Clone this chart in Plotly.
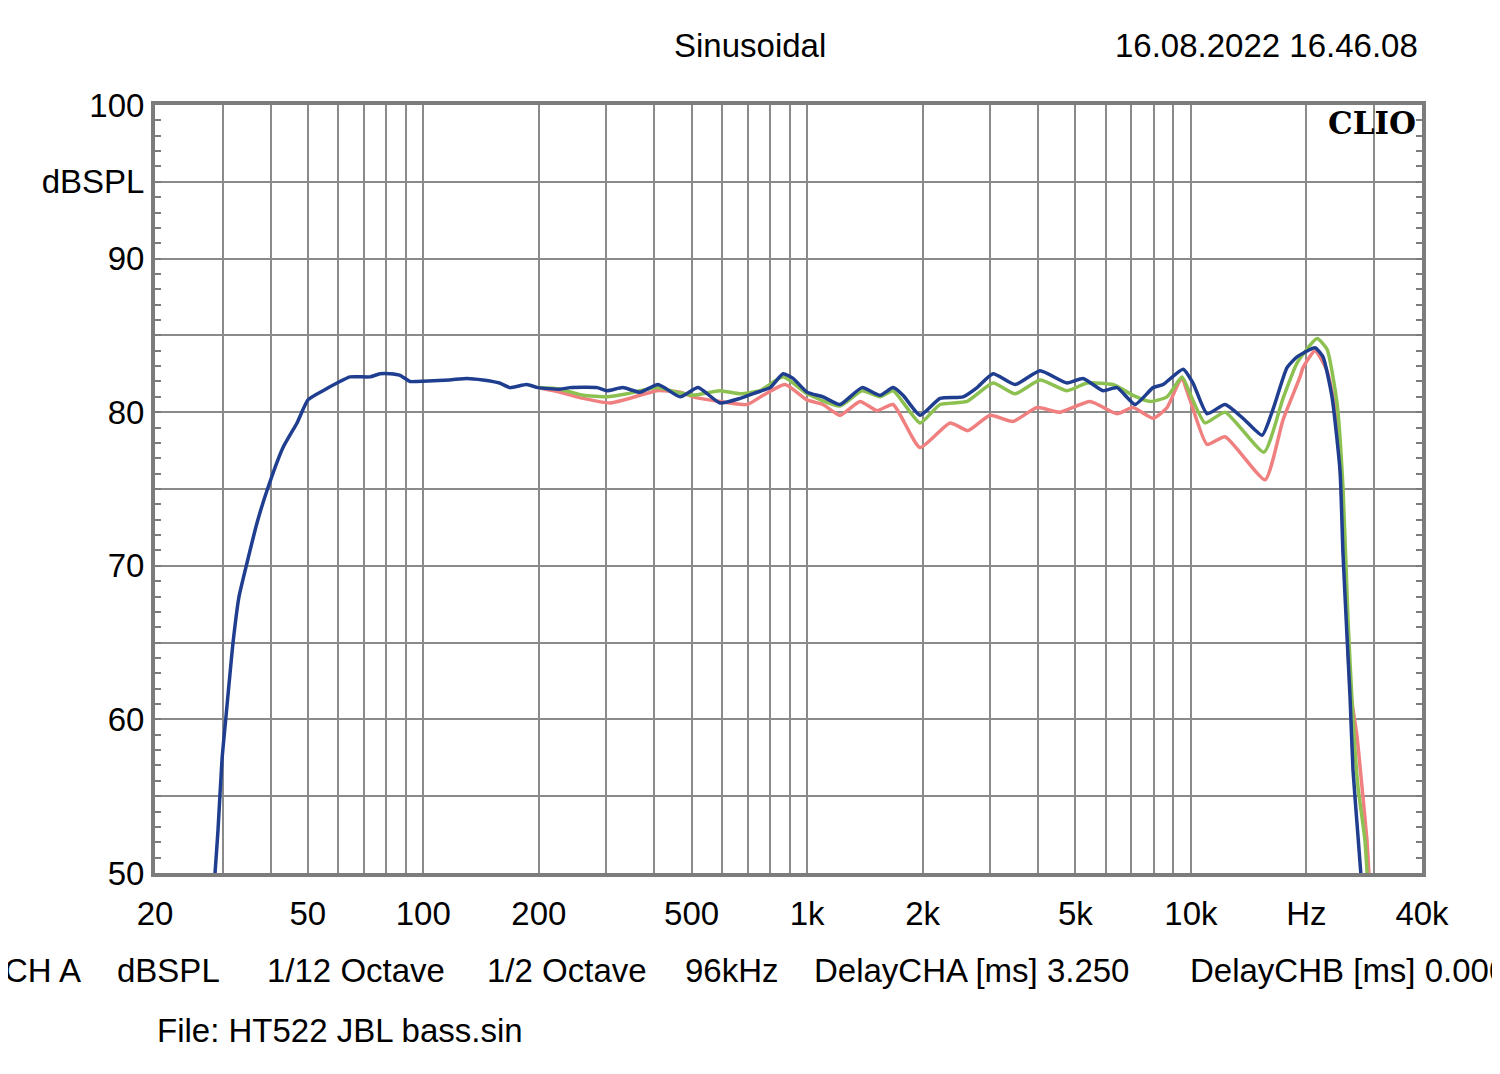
import plotly.graph_objects as go

# ---------------- data ----------------
blue_f = [28.4, 28.67, 29.19, 29.9, 30.62, 31.37, 31.94, 33.11, 34.74, 36.89, 39.16, 43.11, 46.88,
          50.07, 54.8, 59.6, 64.4, 72.6, 77.1, 81.9, 87.0, 92.3, 96.3, 117, 130, 143, 158, 168,
          186, 199, 227, 241, 284, 301, 331, 367, 409, 467, 520, 593, 669, 741, 801, 866, 919,
          1000, 1100, 1218, 1390, 1549, 1675, 1778, 1969, 2220, 2549, 2773, 3051, 3482, 4045,
          4756, 5235, 5902, 6420, 7153, 7968, 8462, 9540, 10127, 11015, 12272, 13672, 15324,
          16368, 17799, 18899, 21055, 22086, 23314, 24458, 24901, 25510, 25972, 26442, 27245, 28000]
blue_db = [48.5, 50.0, 52.8, 57.4, 60.2, 63.0, 65.0, 68.0, 70.2, 72.8, 74.9, 77.7, 79.3,
           80.8, 81.4, 81.9, 82.3, 82.3, 82.5, 82.5, 82.4, 82.0, 82.0, 82.1, 82.2, 82.1, 81.9, 81.6,
           81.8, 81.6, 81.5, 81.6, 81.6, 81.4, 81.6, 81.3, 81.8, 81.0, 81.6, 80.6, 80.9, 81.3, 81.6, 82.5, 82.2,
           81.3, 81.0, 80.5, 81.6, 81.1, 81.6, 81.1, 79.8, 80.9, 81.0, 81.6, 82.5, 81.8, 82.7,
           81.9, 82.2, 81.4, 81.6, 80.5, 81.6, 81.8, 82.8, 81.9, 79.9, 80.5, 79.6, 78.5,
           80.2, 82.9, 83.6, 84.2, 83.6, 81.0, 76.2, 70.8, 65.4, 61.5, 56.7, 52.4, 48.5]

green_f = [199, 227, 261, 301, 340, 406, 458, 504, 593, 669, 754, 866, 1000, 1218, 1390, 1549,
           1675, 1969, 2220, 2610, 3051, 3482, 4045, 4756, 5363, 6268, 7068, 7826, 8666, 9483,
           9947, 10884, 12272, 15500, 17378, 18899, 21309, 22626, 24023, 24901, 25663, 26442,
           27245, 28414, 29000]
green_db = [81.6, 81.5, 81.1, 81.0, 81.2, 81.6, 81.3, 81.1, 81.4, 81.2, 81.4, 82.3, 81.2, 80.4, 81.4, 81.0,
            81.4, 79.3, 80.5, 80.7, 81.9, 81.2, 82.1, 81.4, 81.9, 81.8, 81.1, 80.7, 81.0, 82.3,
            81.2, 79.3, 80.0, 77.4, 80.9, 83.2, 84.8, 84.1, 80.6, 75.1, 66.5, 60.0,
            55.6, 52.1, 48.5]

red_f = [199, 227, 261, 307, 367, 406, 467, 504, 593, 698, 768, 876, 1000, 1100, 1218, 1374,
         1521, 1675, 1969, 2357, 2626, 2997, 3440, 3973, 4560, 5460, 6420, 7068, 7968, 8666,
         9450, 9947, 11015, 12272, 15602, 17378, 19242, 19591, 21055, 22626, 24023, 24901,
         25972, 27083, 27908, 28756, 29300]
red_db = [81.6, 81.3, 80.9, 80.6, 81.1, 81.4, 81.3, 81.0, 80.7, 80.5, 81.1, 81.8, 80.8, 80.5, 79.8, 80.7,
          80.1, 80.5, 77.7, 79.3, 78.8, 79.8, 79.4, 80.3, 80.0, 80.7, 79.9, 80.3, 79.6, 80.3,
          82.2, 80.8, 77.9, 78.4, 75.6, 79.5, 82.3, 82.9, 84.0, 82.7, 79.5, 73.0,
          62.1, 58.9, 55.6, 52.1, 48.5]

x_grid = [20, 30, 40, 50, 60, 70, 80, 90, 100, 200, 300, 400, 500, 600, 700, 800, 900,
          1000, 2000, 3000, 4000, 5000, 6000, 7000, 8000, 9000, 10000, 20000, 30000, 40000]
x_labels = {20: "20", 50: "50", 100: "100", 200: "200", 500: "500", 1000: "1k", 2000: "2k",
            5000: "5k", 10000: "10k", 20000: "Hz", 40000: "40k"}
y_grid = [50, 55, 60, 65, 70, 75, 80, 85, 90, 95, 100]
y_labels = {50: "50", 60: "60", 70: "70", 80: "80", 90: "90", 95: "dBSPL", 100: "100"}

# ---------------- figure ----------------
FONT = "Liberation Sans, Arial, sans-serif"
FS = 33
GRID = "#8a8a8a"
FRAME = "#7c7c7c"
LINE_SHAPE = dict(shape="spline", smoothing=0.5)

fig = go.Figure()
fig.add_trace(go.Scatter(x=red_f, y=red_db, mode="lines",
                         line=dict(color="#f08080", width=3.5, **LINE_SHAPE), showlegend=False))
fig.add_trace(go.Scatter(x=green_f, y=green_db, mode="lines",
                         line=dict(color="#8cc152", width=3.5, **LINE_SHAPE), showlegend=False))
fig.add_trace(go.Scatter(x=blue_f, y=blue_db, mode="lines",
                         line=dict(color="#1f3e8f", width=3.5, **LINE_SHAPE), showlegend=False))

OFF = 8  # page body margin
L, R, T, B = 155 - OFF, 1422 - OFF, 105 - OFF, 873 - OFF
W, H = 1492, 1066

def px(x):
    return (x - OFF - L) / (R - L)

def py(y):
    return (B - (y - OFF)) / (B - T)

fig.update_layout(
    width=W, height=H,
    margin=dict(l=L, r=W - R, t=T, b=H - B, pad=0),
    paper_bgcolor="white", plot_bgcolor="white",
    font=dict(family=FONT, size=FS, color="black"),
    xaxis=dict(type="log", range=[1.30103, 4.60206],
               tickmode="array", tickvals=x_grid,
               ticktext=[x_labels.get(v, "") for v in x_grid],
               showgrid=True, gridcolor=GRID, gridwidth=2,
               showline=True, linecolor=FRAME, linewidth=4, mirror=True,
               ticks="", ticklabelstandoff=8, zeroline=False,
               tickfont=dict(family=FONT, size=FS, color="black")),
    yaxis=dict(range=[50, 100], tickmode="array", tickvals=y_grid,
               ticktext=[y_labels.get(v, "") for v in y_grid],
               showgrid=True, gridcolor=GRID, gridwidth=2,
               showline=True, linecolor=FRAME, linewidth=4, mirror="ticks",
               ticks="inside", ticklen=6, tickcolor=FRAME, tickwidth=1.5,
               minor=dict(tickmode="linear", tick0=50, dtick=1, ticks="inside",
                          ticklen=6, tickcolor=FRAME, tickwidth=1.5, showgrid=False),
               ticklabelstandoff=0, zeroline=False,
               tickfont=dict(family=FONT, size=FS, color="black")),
)

ann = [
    dict(text="Sinusoidal", x=px(750), y=py(45), xanchor="center", yanchor="middle"),
    dict(text="16.08.2022 16.46.08", x=px(1420), y=py(45), xanchor="right", yanchor="middle"),
    dict(text="<b>CLIO</b>", x=px(1418), y=py(123), xanchor="right", yanchor="middle",
         font=dict(family="DejaVu Serif, serif", size=31, color="black")),
    dict(text="CH A", x=px(2), y=py(970), xanchor="left", yanchor="middle"),
    dict(text="dBSPL", x=px(115), y=py(970), xanchor="left", yanchor="middle"),
    dict(text="1/12 Octave", x=px(265), y=py(970), xanchor="left", yanchor="middle"),
    dict(text="1/2 Octave", x=px(485), y=py(970), xanchor="left", yanchor="middle"),
    dict(text="96kHz", x=px(683), y=py(970), xanchor="left", yanchor="middle"),
    dict(text="DelayCHA [ms] 3.250", x=px(812), y=py(970), xanchor="left", yanchor="middle"),
    dict(text="DelayCHB [ms] 0.000", x=px(1188), y=py(970), xanchor="left", yanchor="middle"),
    dict(text="File: HT522 JBL bass.sin", x=px(155), y=py(1030), xanchor="left", yanchor="middle"),
]
for a in ann:
    a.setdefault("font", dict(family=FONT, size=FS, color="black"))
    fig.add_annotation(xref="paper", yref="paper", showarrow=False, **a)

fig.write_html("out.html")
